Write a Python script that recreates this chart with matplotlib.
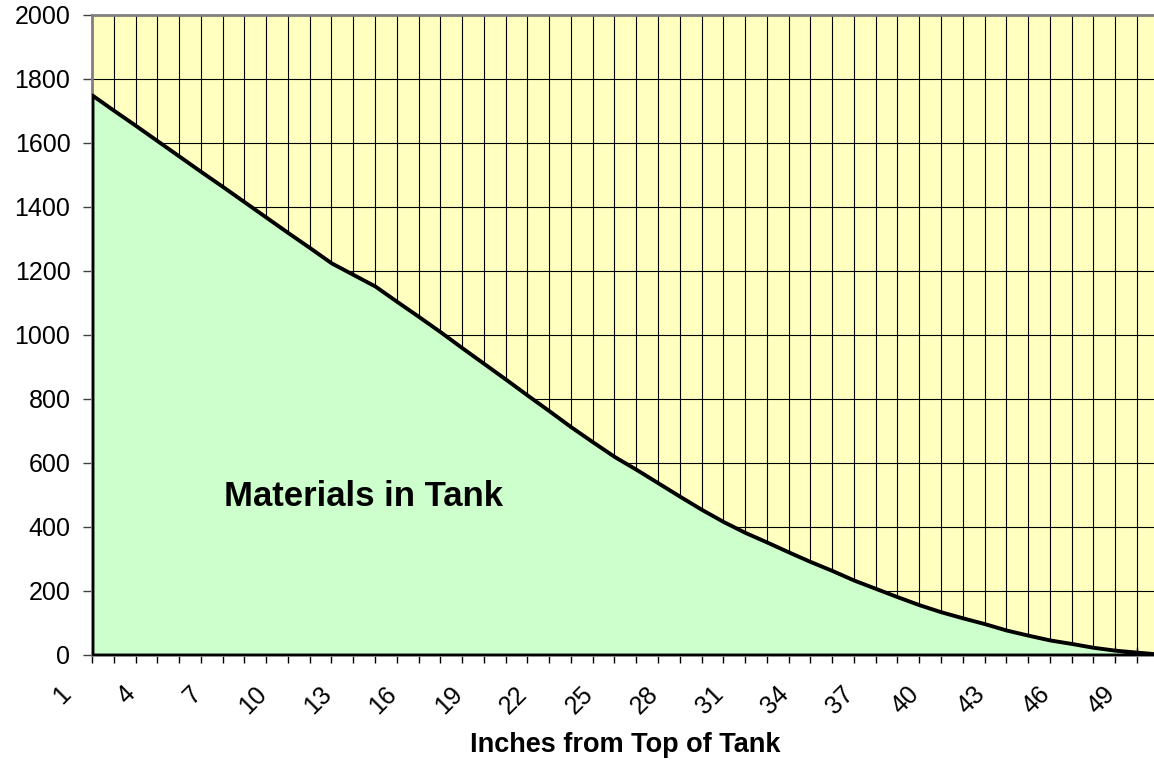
import matplotlib.pyplot as plt
from matplotlib.transforms import ScaledTranslation

# inches from the top of the tank (category axis)
inches = list(range(1, 51))

# material in the tank at each inch
volume = [1750, 1702, 1655, 1607, 1559, 1511, 1464, 1416, 1368, 1320,
          1273, 1225, 1189, 1153, 1105, 1058, 1010, 960, 911, 862,
          812, 763, 713, 666, 620, 580, 538, 496, 455, 417,
          383, 353, 322, 292, 264, 234, 208, 182, 157, 135,
          116, 98, 78, 62, 47, 36, 24, 15, 9, 3]

y_ticks = list(range(0, 2001, 200))
label_every = 3

plt.rcParams['font.family'] = ['Liberation Sans', 'DejaVu Sans']

fig = plt.figure(figsize=(11.54, 7.61), dpi=100)
# plot area runs a little past the right edge of the picture
ax = fig.add_axes([92 / 1154, 106 / 761, 1066.7 / 1154, 640 / 761])
ax.set_facecolor('#FFFFC0')

# area with black outline
ax.fill_between(inches, volume, 0, facecolor='#CCFFCC', edgecolor='black',
                linewidth=2.8, zorder=3)

ax.set_xlim(inches[0], inches[-1])
ax.set_ylim(y_ticks[0], y_ticks[-1])

ax.set_yticks(y_ticks)
ax.set_xticks(inches)
ax.set_xticklabels([str(c) if (c - inches[0]) % label_every == 0 else '' for c in inches])

# grid on every category and every 200
ax.set_axisbelow(True)
ax.grid(True, color='black', linewidth=0.8)

for side in ['top', 'left', 'bottom']:
    ax.spines[side].set_color('#808080')
    ax.spines[side].set_linewidth(2)
ax.spines['right'].set_visible(False)

ax.tick_params(axis='y', direction='out', length=6.5, width=1, color='#404040',
               labelsize=18, pad=9)
ax.tick_params(axis='x', direction='inout', length=11, width=1, color='black',
               labelsize=18, pad=14)

# slanted labels, shifted a bit to the left of their ticks
shift = ScaledTranslation(-0.17, 0, fig.dpi_scale_trans)
for lab in ax.get_xticklabels():
    lab.set_rotation(45)
    lab.set_ha('right')
    lab.set_va('top')
    lab.set_transform(lab.get_transform() + shift)

ax.set_xlabel('Inches from Top of Tank', fontsize=19.5, fontweight='bold', va='center')
ax.xaxis.set_label_coords((625 - 92) / 1066.7, -90 / 640)

ax.text(13.45, 494, 'Materials in Tank', fontsize=25, fontweight='bold',
        ha='center', va='center', zorder=4)

fig.savefig('out.png', dpi=100)
